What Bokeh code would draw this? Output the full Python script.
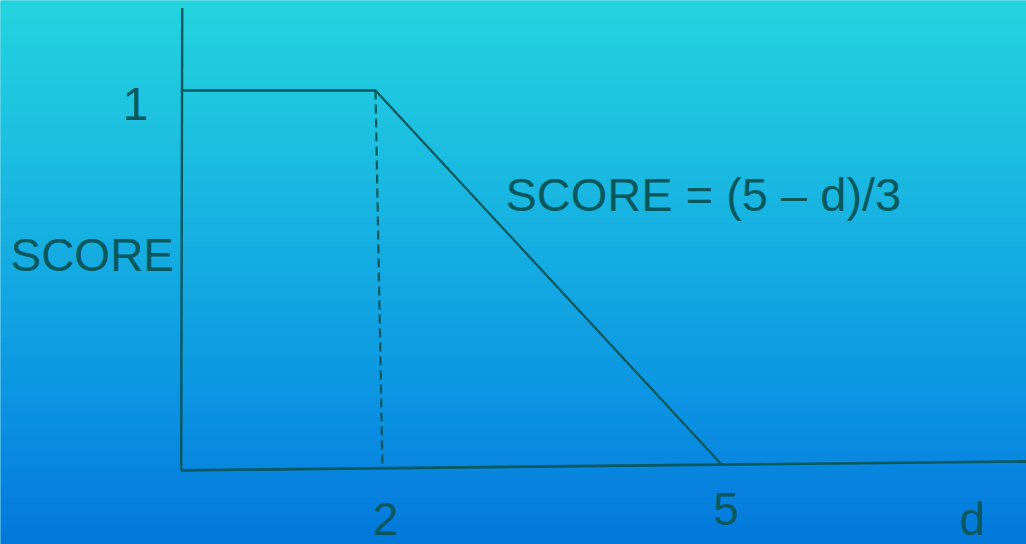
import numpy as np
from bokeh.plotting import figure
from bokeh.models import Range1d
from bokeh.core.properties import value
from bokeh.embed import file_html
from bokeh.resources import INLINE

# ---- data (schematic score function) ----
curve_d = [0.32, 2, 5]          # flat from the axis to d=2, then down to d=5
curve_score = [1, 1, 0]
dash_d = [2, 2.06]              # dashed drop line at d = 2
dash_score = [1, -0.008]
xaxis_d = [0.32, 7.63]          # hand-drawn (slightly tilted) axes
xaxis_score = [-0.013, 0.011]
yaxis_d = [0.32, 0.329]
yaxis_score = [-0.013, 1.22]

tick_text = ["2", "5", "d"]
tick_d = [2.086, 5.03, 7.16]
tick_score = [-0.144, -0.117, -0.144]

ink = "#08585e"
W, H = 1026, 544
X0, X1 = -1.242, 7.628
Y0, Y1 = -0.2107, 1.24

p = figure(width=W, height=H, output_backend="svg", toolbar_location=None,
           x_range=Range1d(X0, X1), y_range=Range1d(Y0, Y1),
           x_axis_type=None, y_axis_type=None, min_border=0,
           outline_line_color=None,
           background_fill_color="#1ec6e0", border_fill_color="#1ec6e0")
p.grid.visible = False

# ---- vertical gradient background (slightly oversized to avoid edge seams) ----
stops_y = [5, 135, 305, 405, 540]
stops_rgb = np.array([[34, 211, 222], [28, 192, 224], [18, 164, 226],
                      [11, 147, 226], [3, 120, 219]], dtype=float)
pad = 4
n = H + 2 * pad
rows = np.arange(n)
img_y = (H + pad - 1 - rows) + 0.5
cols = np.stack([np.interp(img_y, stops_y, stops_rgb[:, k]) for k in range(3)], axis=1)
img = np.empty((n, 2), dtype=np.uint32)
view = img.view(dtype=np.uint8).reshape((n, 2, 4))
for j in range(2):
    view[:, j, 0] = cols[:, 0].round().astype(np.uint8)
    view[:, j, 1] = cols[:, 1].round().astype(np.uint8)
    view[:, j, 2] = cols[:, 2].round().astype(np.uint8)
    view[:, j, 3] = 255
sx = (X1 - X0) / W
sy = (Y1 - Y0) / H
p.image_rgba(image=[img], x=X0 - pad * sx, y=Y0 - pad * sy,
             dw=(X1 - X0) + 2 * pad * sx, dh=(Y1 - Y0) + 2 * pad * sy)

# ---- axes and curve ----
p.line(xaxis_d, xaxis_score, line_color=ink, line_width=2.6)
p.line(yaxis_d, yaxis_score, line_color=ink, line_width=2.4)
p.line(curve_d, curve_score, line_color=ink, line_width=2.3)
p.line(dash_d, dash_score, line_color=ink, line_width=2.2, line_dash="9 5")

# ---- texts ----
font = value("Liberation Sans")
p.text(x=tick_d, y=tick_score, text=tick_text, text_font=font,
       text_font_size="46px", text_color=ink, text_align="center",
       text_baseline="alphabetic")
p.text(x=[-0.075], y=[0.9627], text=["1"], text_font=font,
       text_font_size="46px", text_color=ink, text_align="center",
       text_baseline="alphabetic")
p.text(x=[-1.156], y=[0.56], text=["SCORE"], text_font=font,
       text_font_size="46px", text_color=ink, text_align="left",
       text_baseline="alphabetic")
p.text(x=[3.124], y=[0.7227], text=["SCORE = (5 \u2013 d)/3"], text_font=font,
       text_font_size="47px", text_color=ink, text_align="left",
       text_baseline="alphabetic")

open("out.html", "w").write(file_html(p, INLINE))
